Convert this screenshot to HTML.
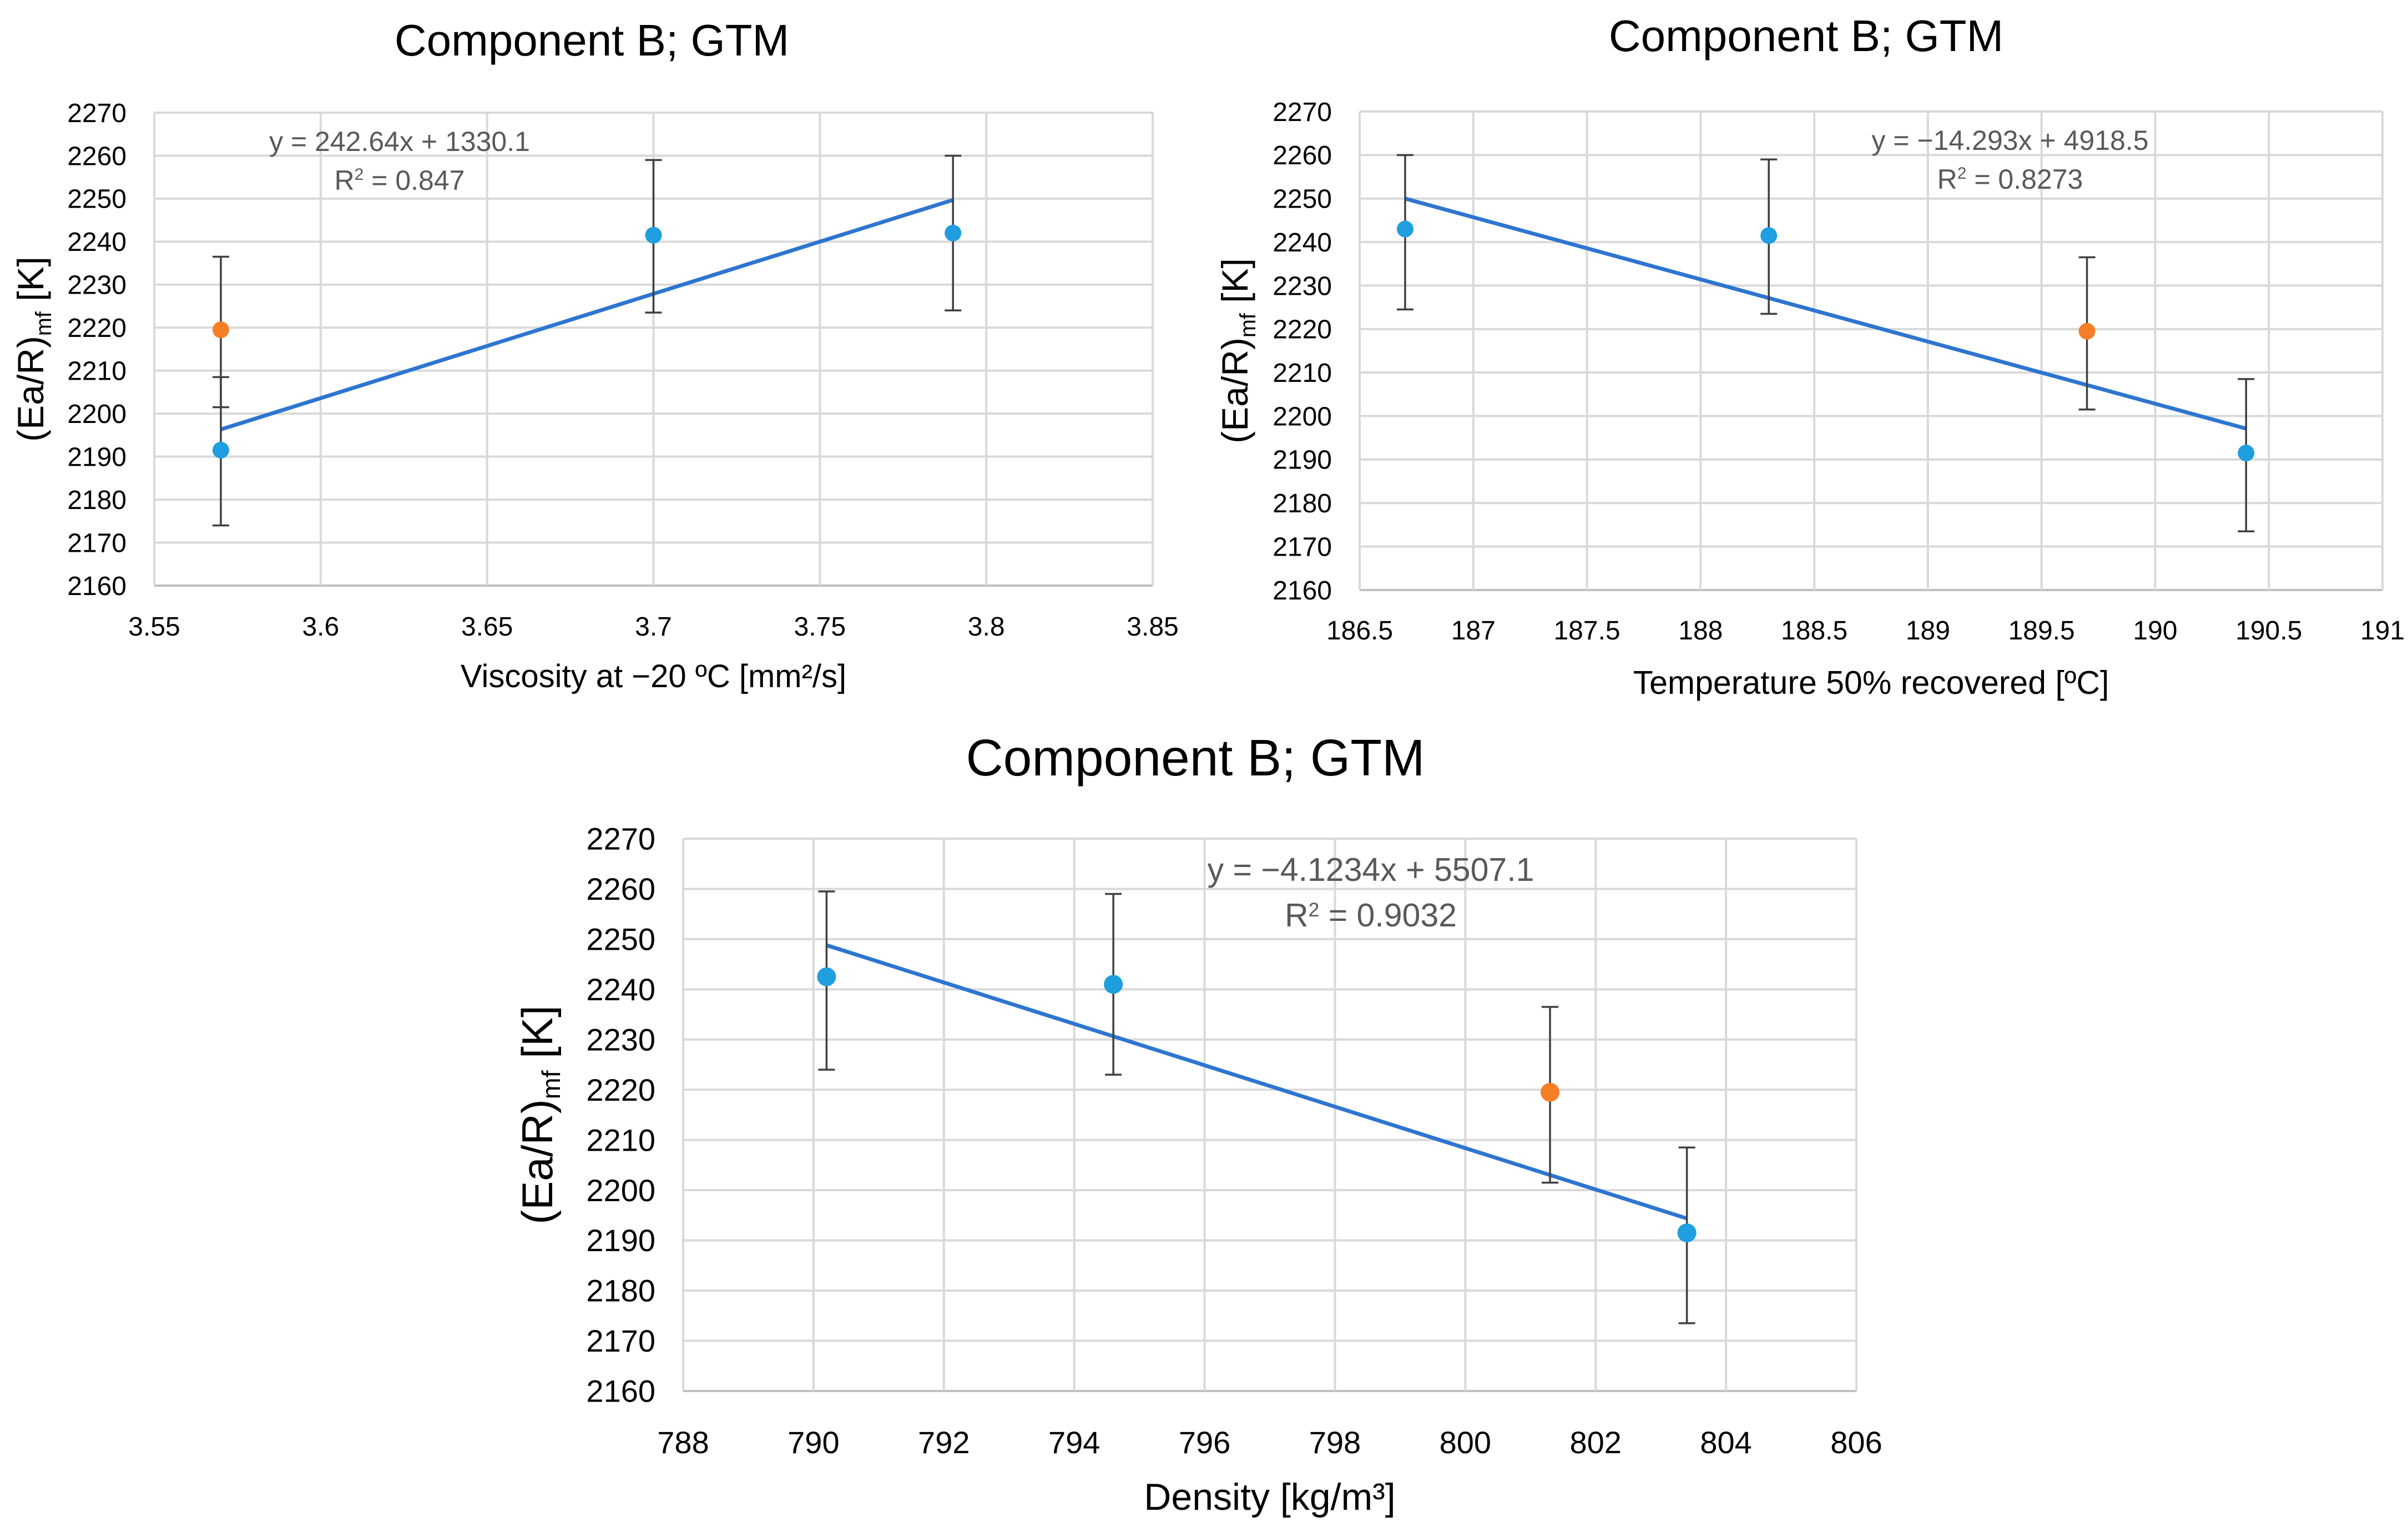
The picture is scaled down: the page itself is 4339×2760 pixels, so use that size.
<!DOCTYPE html>
<html><head><meta charset="utf-8"><style>
html,body{margin:0;padding:0;background:#fff}
svg{display:block}
text{font-family:"Liberation Sans Narrow","Liberation Sans",sans-serif}
</style></head>
<body>
<svg id="root" xmlns="http://www.w3.org/2000/svg" width="4339" height="2760" viewBox="0 0 4339 2760"></svg>
<script>
// Chart 1: viscosity
const visX = [3.57, 3.70, 3.79];
const visY = [2191.5, 2241.5, 2242];
const visErrLo = [2174, 2223.5, 2224];
const visErrHi = [2208.5, 2259, 2260];
const visOrangeX = [3.57];
const visOrangeY = [2219.5];
const visOrangeLo = [2201.5];
const visOrangeHi = [2236.5];
const visXTicks = [3.55, 3.6, 3.65, 3.7, 3.75, 3.8, 3.85];
const visXTickLabels = ["3.55","3.6","3.65","3.7","3.75","3.8","3.85"];
const visTrend = [242.64, 1330.1];
// Chart 2: temperature
const tmpX = [186.7, 188.3, 190.4];
const tmpY = [2243, 2241.5, 2191.5];
const tmpErrLo = [2224.5, 2223.5, 2173.5];
const tmpErrHi = [2260, 2259, 2208.5];
const tmpOrangeX = [189.7];
const tmpOrangeY = [2219.5];
const tmpOrangeLo = [2201.5];
const tmpOrangeHi = [2236.5];
const tmpXTicks = [186.5,187,187.5,188,188.5,189,189.5,190,190.5,191];
const tmpXTickLabels = ["186.5","187","187.5","188","188.5","189","189.5","190","190.5","191"];
const tmpTrend = [-14.293, 4918.5];
// Chart 3: density
const denX = [790.2, 794.6, 803.4];
const denY = [2242.5, 2241, 2191.5];
const denErrLo = [2224, 2223, 2173.5];
const denErrHi = [2259.5, 2259, 2208.5];
const denOrangeX = [801.3];
const denOrangeY = [2219.5];
const denOrangeLo = [2201.5];
const denOrangeHi = [2236.5];
const denXTicks = [788,790,792,794,796,798,800,802,804,806];
const denXTickLabels = ["788","790","792","794","796","798","800","802","804","806"];
const denTrend = [-4.1234, 5507.1];
// shared y ticks
const yTicks = [2160,2170,2180,2190,2200,2210,2220,2230,2240,2250,2260,2270];
const yTickLabels = ["2160","2170","2180","2190","2200","2210","2220","2230","2240","2250","2260","2270"];

const NS = "http://www.w3.org/2000/svg";
const root = document.getElementById('root');
function mk(tag, attrs, parent, txt){
  const e = document.createElementNS(NS, tag);
  for (const k in attrs) e.setAttribute(k, attrs[k]);
  if (txt !== undefined) e.textContent = txt;
  parent.appendChild(e);
  return e;
}

function drawChart(c){
  const g = mk('g', {}, root);
  
  
  const xMin = c.xTicks[0], xMax = c.xTicks[c.xTicks.length-1];
  const sx = v => c.L + (v - xMin) / (xMax - xMin) * (c.R - c.L);
  const sy = v => c.B - (v - 2160) / 110 * (c.B - c.T);
  const t = mk('text', {x: (c.L + c.R)/2 + c.titleDx, y: c.titleY, 'font-size': c.titleSize, 'text-anchor':'middle', fill:'#000'}, g, 'Component B; GTM');
  
  
  yTicks.forEach((v, i) => {
    const ln = mk('line', {x1:c.L, x2:c.R, y1:sy(v), y2:sy(v), stroke: i===0 ? '#bfbfbf' : '#d9d9d9', 'stroke-width':4}, g);
    
    
    const lb = mk('text', {x:c.L - c.tickGap, y:sy(v) + c.tickSize*0.35, 'font-size':c.tickSize, 'text-anchor':'end', fill:'#000'}, g, yTickLabels[i]);
    
    
  });
  c.xTicks.forEach((v, i) => {
    const ln = mk('line', {x1:sx(v), x2:sx(v), y1:c.T, y2:c.B, stroke:'#d9d9d9', 'stroke-width':4}, g);
    
    
    const lb = mk('text', {x:sx(v), y:c.xTickY, 'font-size':c.tickSize, 'text-anchor':'middle', fill:'#000'}, g, c.xTickLabels[i]);
    
    
  });
  const xt = mk('text', {x:(c.L+c.R)/2 + c.xTitleDx, y:c.xTitleY, 'font-size':c.axisSize, 'text-anchor':'middle', fill:'#000'}, g);
  xt.innerHTML = c.xTitle;
  
  
  const yt = mk('text', {x:0, y:0, 'font-size':c.ySize, 'text-anchor':'middle', fill:'#000', transform:`translate(${c.yTitleX},${(c.T+c.B)/2}) rotate(-90)`}, g);
  yt.innerHTML = '(Ea/R)<tspan font-size="'+(c.ySize*0.6)+'" dy="14">mf</tspan><tspan dy="-14"> [K]</tspan>';
  
  
  const x0 = Math.min(...c.x, ...c.ox), x1 = Math.max(...c.x, ...c.ox);
  const tl = mk('line', {x1:sx(x0), y1:sy(c.trend[0]*x0 + c.trend[1]), x2:sx(x1), y2:sy(c.trend[0]*x1 + c.trend[1]), stroke:'#2e75d0', 'stroke-width':7}, g);
  
  
  function series(xs, ys, lo, hi, color, nm){
    xs.forEach((xv, i) => {
      const X = sx(xv);
      const eb = mk('path', {d:`M${X},${sy(lo[i])}V${sy(hi[i])}M${X-15},${sy(lo[i])}H${X+15}M${X-15},${sy(hi[i])}H${X+15}`, stroke:'#404040', 'stroke-width':3.5, fill:'none'}, g);
      
      
    });
    xs.forEach((xv, i) => {
      const p = mk('circle', {cx:sx(xv), cy:sy(ys[i]), r:c.r, fill:color}, g);
      
      
    });
  }
  series(c.x, c.y, c.lo, c.hi, '#1f9ee0', 'data-point');
  series(c.ox, c.oy, c.olo, c.ohi, '#f57f26', 'highlighted-point');
  const e1 = mk('text', {x:c.eqX, y:c.eqY, 'font-size':c.eqSize, 'text-anchor':'middle', fill:'#595959'}, g, c.eq);
  
  
  const e2 = mk('text', {x:c.eqX, y:c.eqY + c.eqGap, 'font-size':c.eqSize, 'text-anchor':'middle', fill:'#595959'}, g);
  e2.innerHTML = 'R<tspan font-size="'+(c.eqSize*0.6)+'" dy="-18">2</tspan><tspan dy="18"> = '+c.r2+'</tspan>';
  
  
}

drawChart({name:'viscosity-chart', L:278, R:2077, T:203, B:1055, titleDx:-111, titleY:100, titleSize:80, tickSize:48, tickGap:50, axisSize:58, ySize:66,
  xTicks:visXTicks, xTickLabels:visXTickLabels, xTickY:1145, xTitleY:1238, xTitleDx:0, xTitle:'Viscosity at −20 ºC [mm²/s]', yTitleX:78,
  x:visX, y:visY, lo:visErrLo, hi:visErrHi, ox:visOrangeX, oy:visOrangeY, olo:visOrangeLo, ohi:visOrangeHi, trend:visTrend, r:15,
  eq:'y = 242.64x + 1330.1', r2:'0.847', eqX:720, eqY:272, eqGap:70, eqSize:50});
drawChart({name:'temperature-chart', L:2450, R:4293, T:201, B:1063, titleDx:-117, titleY:92, titleSize:80, tickSize:48, tickGap:50, axisSize:59, ySize:66,
  xTicks:tmpXTicks, xTickLabels:tmpXTickLabels, xTickY:1152, xTitleY:1250, xTitleDx:0, xTitle:'Temperature 50% recovered [ºC]', yTitleX:2248,
  x:tmpX, y:tmpY, lo:tmpErrLo, hi:tmpErrHi, ox:tmpOrangeX, oy:tmpOrangeY, olo:tmpOrangeLo, ohi:tmpOrangeHi, trend:tmpTrend, r:15,
  eq:'y = −14.293x + 4918.5', r2:'0.8273', eqX:3622, eqY:270, eqGap:70, eqSize:50});
drawChart({name:'density-chart', L:1231, R:3345, T:1511, B:2506, titleDx:-134, titleY:1397, titleSize:93, tickSize:56, tickGap:50, axisSize:68, ySize:78,
  xTicks:denXTicks, xTickLabels:denXTickLabels, xTickY:2618, xTitleY:2720, xTitleDx:0, xTitle:'Density [kg/m³]', yTitleX:995,
  x:denX, y:denY, lo:denErrLo, hi:denErrHi, ox:denOrangeX, oy:denOrangeY, olo:denOrangeLo, ohi:denOrangeHi, trend:denTrend, r:17,
  eq:'y = −4.1234x + 5507.1', r2:'0.9032', eqX:2470, eqY:1587, eqGap:82, eqSize:59});
</script>
</body></html>
